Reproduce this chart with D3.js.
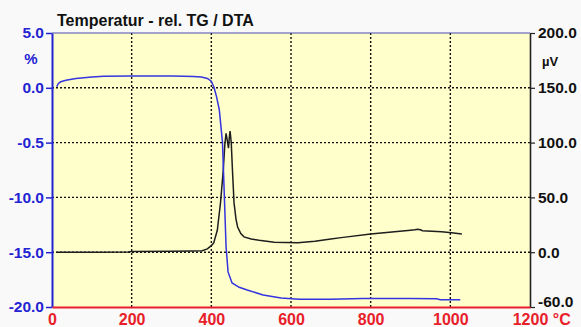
<!DOCTYPE html>
<html>
<head>
<meta charset="utf-8">
<script src="https://cdn.jsdelivr.net/npm/d3@7"></script>
<style>
  html, body { margin: 0; padding: 0; background: #f9f9f9; }
  svg { display: block; }
  text { font-family: "Liberation Sans", Arial, sans-serif; font-weight: bold; }
</style>
</head>
<body>
<svg id="chart" width="581" height="327"></svg>
<script>
// Temperature axis (°C)
const tempTicks = [0, 200, 400, 600, 800, 1000, 1200];
const tempLabels = ["0", "200", "400", "600", "800", "1000", "1200"];

// Left axis: relative mass change TG (%)
const tgTicks = [5, 0, -5, -10, -15, -20];
const tgLabels = ["5.0", "0.0", "-0.5", "-10.0", "-15.0", "-20.0"];

// Right axis: DTA signal (µV)
const dtaTicks = [200, 150, 100, 50, 0, -60];
const dtaLabels = ["200.0", "150.0", "100.0", "50.0", "0.0", "-60.0"];

// TG curve: temperature (°C) and relative mass (%)
const tgTemp = [12, 16, 22, 35, 60, 100, 130, 200, 300, 330, 355, 375, 390, 400, 407, 413, 420, 428, 432, 437, 442, 452, 470, 490, 530, 575, 620, 700, 780, 900, 965, 975, 1025];
const tgValue = [0.1, 0.4, 0.55, 0.68, 0.85, 0.98, 1.06, 1.08, 1.08, 1.06, 1.03, 0.98, 0.85, 0.6, 0.0, -0.8, -2.0, -5.0, -9.2, -14.5, -16.8, -17.8, -18.2, -18.45, -18.9, -19.18, -19.3, -19.3, -19.22, -19.22, -19.24, -19.33, -19.33];

// DTA curve: temperature (°C) and signal (µV)
const dtaTemp = [12, 100, 190, 200, 300, 350, 377, 390, 400, 406, 415, 423, 430, 434, 437, 440, 443, 445, 447, 450, 453, 457, 462, 466, 474, 482, 500, 520, 558, 617, 660, 700, 726, 800, 860, 900, 911, 918, 925, 930, 978, 1003, 1029];
const dtaValue = [0, 0, 0.2, 0.6, 0.8, 1.0, 1.3, 3, 6, 8.4, 20, 45, 75, 99, 108.5, 102, 95, 104, 110.5, 100, 75, 45, 30, 23, 17, 14, 12, 10.8, 9.0, 8.7, 10, 12, 13.3, 16.6, 18.7, 20, 20.4, 21, 20.5, 19.6, 18.7, 17.8, 16.6];

const svg = d3.select("#chart");
const plotL = 52, plotR = 530, plotT = 33, plotB = 307;

const x = d3.scaleLinear().domain([0, 1200]).range([plotL, plotR]);
const yTG = d3.scaleLinear().domain([-20, 5]).range([plotB, plotT]);
const yDTA = d3.scaleLinear().domain([-60, 0, 200]).range([plotB, yTG(-15), plotT]);

const blue = "#2323d2";
const red = "#e8202a";
const dark = "#222";
const font = "Liberation Sans, Arial, sans-serif";

// plot background
svg.append("rect")
  .attr("x", plotL).attr("y", plotT)
  .attr("width", plotR - plotL).attr("height", plotB - plotT)
  .attr("fill", "#ffffcc");

// dotted grid
const grid = svg.append("g")
  .attr("stroke", "#111")
  .attr("stroke-width", 1.4)
  .attr("stroke-dasharray", "2,2");
grid.selectAll("line.v")
  .data(tempTicks.filter(t => t > 0 && t < 1200))
  .join("line")
  .attr("class", "v")
  .attr("x1", d => x(d)).attr("x2", d => x(d))
  .attr("y1", plotT).attr("y2", plotB);
grid.selectAll("line.h")
  .data(tgTicks.filter(t => t < 5 && t > -20))
  .join("line")
  .attr("class", "h")
  .attr("x1", plotL).attr("x2", plotR)
  .attr("y1", d => yTG(d)).attr("y2", d => yTG(d));

// curves
const tgLine = d3.line().x(d => x(d[0])).y(d => yTG(d[1]));
const dtaLine = d3.line().x(d => x(d[0])).y(d => yDTA(d[1]));

svg.append("path")
  .datum(dtaTemp.map((t, i) => [t, dtaValue[i]]))
  .attr("d", dtaLine)
  .attr("fill", "none")
  .attr("stroke", "#1e1e1e")
  .attr("stroke-width", 1.5);

svg.append("path")
  .datum(tgTemp.map((t, i) => [t, tgValue[i]]))
  .attr("d", tgLine)
  .attr("fill", "none")
  .attr("stroke", "#3434e0")
  .attr("stroke-width", 1.5);

// frame: top edge
svg.append("line")
  .attr("x1", plotL).attr("x2", plotR)
  .attr("y1", plotT).attr("y2", plotT)
  .attr("stroke", "#4a4ab0").attr("stroke-width", 1.2);

// left axis (TG, %)
const axL = svg.append("g")
  .attr("transform", `translate(${plotL},0)`)
  .call(d3.axisLeft(yTG).tickValues(tgTicks)
    .tickFormat((d, i) => tgLabels[i]).tickSize(6).tickSizeOuter(0).tickPadding(2));
axL.select(".domain").attr("stroke", blue).attr("stroke-width", 2);
axL.selectAll(".tick line").attr("stroke", blue).attr("stroke-width", 1.5);
axL.selectAll(".tick text")
  .attr("fill", blue).attr("font-size", 15.5)
  .attr("font-family", font).attr("font-weight", "bold");

// right axis (DTA, µV)
const axR = svg.append("g")
  .attr("transform", `translate(${plotR},0)`)
  .call(d3.axisRight(yDTA).tickValues(dtaTicks)
    .tickFormat((d, i) => dtaLabels[i]).tickSize(5).tickSizeOuter(0).tickPadding(3));
axR.select(".domain").attr("stroke", dark).attr("stroke-width", 1.6);
axR.selectAll(".tick line").attr("stroke", dark).attr("stroke-width", 1.2);
axR.selectAll(".tick text")
  .attr("fill", "#111").attr("font-size", 15.5)
  .attr("font-family", font).attr("font-weight", "bold");
// the bottom label sits a little above its tick so it clears the °C label
axR.selectAll(".tick text").filter(d => d === -60).attr("y", -5);

// bottom axis (temperature)
const axB = svg.append("g")
  .attr("transform", `translate(0,${plotB})`)
  .call(d3.axisBottom(x).tickValues(tempTicks)
    .tickFormat((d, i) => tempLabels[i]).tickSize(0).tickSizeOuter(0).tickPadding(7));
axB.select(".domain").attr("stroke", red).attr("stroke-width", 2);
axB.selectAll(".tick text")
  .attr("fill", red).attr("font-size", 16)
  .attr("font-family", font).attr("font-weight", "bold");

// unit after the last temperature label
const lastLabel = axB.selectAll(".tick text").nodes().pop();
const lastW = lastLabel.getComputedTextLength();
axB.append("text")
  .attr("x", x(1200) + lastW / 2 + 5)
  .attr("y", lastLabel.getAttribute("y"))
  .attr("dy", "0.71em")
  .attr("text-anchor", "start")
  .attr("fill", red).attr("font-size", 16)
  .attr("font-family", font).attr("font-weight", "bold")
  .text("°C");

// title and unit labels
svg.append("text")
  .attr("x", 57).attr("y", 26)
  .attr("font-size", 16).attr("fill", "#111")
  .text("Temperatur - rel. TG / DTA");

svg.append("text")
  .attr("x", 31).attr("y", 64)
  .attr("text-anchor", "middle")
  .attr("font-size", 15).attr("fill", blue)
  .text("%");

svg.append("text")
  .attr("x", 550).attr("y", 66)
  .attr("text-anchor", "middle")
  .attr("font-size", 13).attr("fill", "#111")
  .text("µV");
</script>
</body>
</html>
